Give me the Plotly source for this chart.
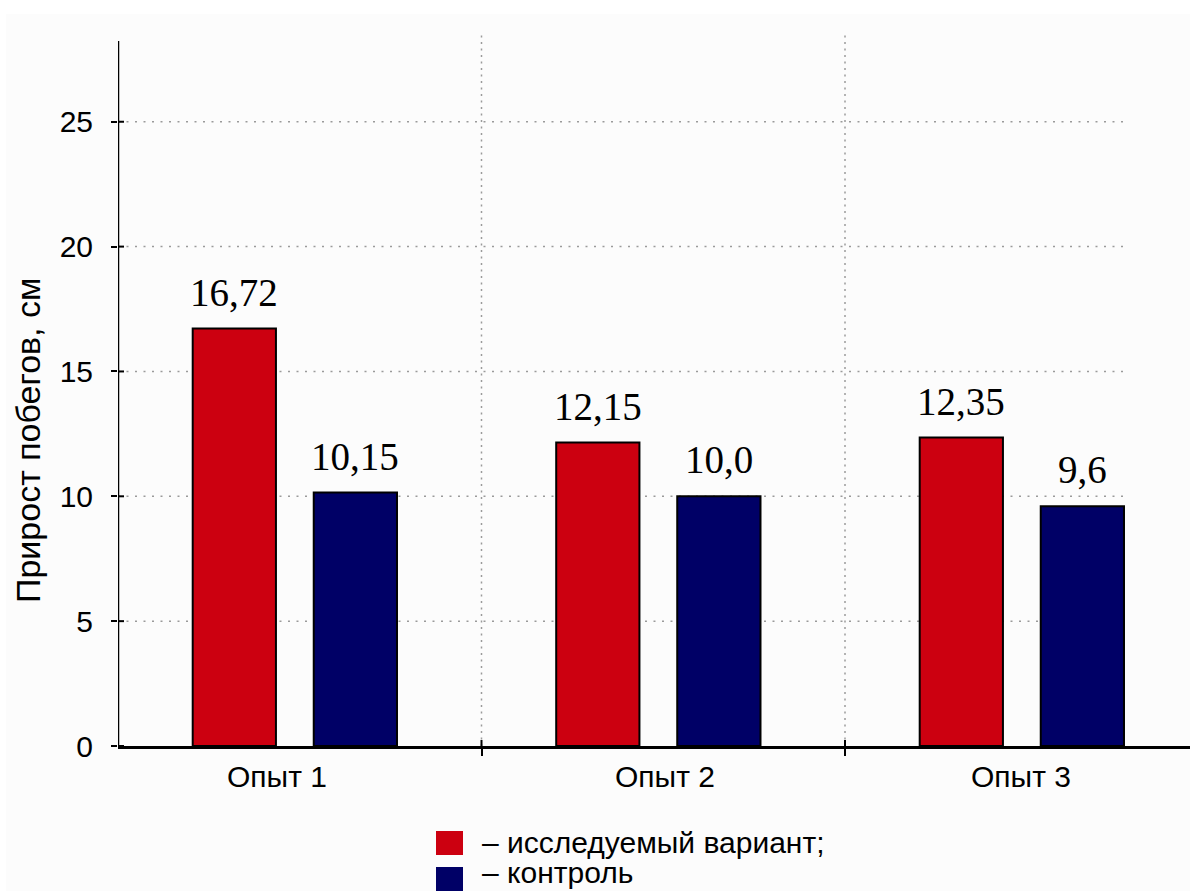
import plotly.graph_objects as go

# Data
experiments = ["Опыт 1", "Опыт 2", "Опыт 3"]
studied = [16.72, 12.15, 12.35]
control = [10.15, 10.0, 9.6]
studied_labels = ["16,72", "12,15", "12,35"]
control_labels = ["10,15", "10,0", "9,6"]
y_ticks = [0, 5, 10, 15, 20, 25]

series_names = ["– исследуемый вариант;", "– контроль"]
RED = "#cc0010"
NAVY = "#000066"
SANS = "Liberation Sans, Arial, sans-serif"
SERIF = "Liberation Serif, Times New Roman, serif"

W, H = 1190, 891
M_L, M_R, M_T, M_B = 118, 0, 32, 145
PX_PER_CAT = 363.5
PX_PER_UNIT = 24.97

x_pos = list(range(len(experiments)))
x_min = -0.5
x_max = x_min + (W - M_L - M_R) / PX_PER_CAT
y_max = (H - M_B - M_T) / PX_PER_UNIT
axis_top = (H - M_B - 41) / PX_PER_UNIT
grid_right = x_min + (1129 - M_L) / PX_PER_CAT

plot_w = W - M_L - M_R
plot_h = H - M_T - M_B


def px_x(px):
    return (px - M_L) / plot_w


def px_y(py):
    return (H - M_B - py) / plot_h


bar_w = 0.229
fig = go.Figure()
fig.add_trace(go.Bar(
    x=x_pos, y=studied, name=series_names[0],
    width=bar_w, offset=-0.18 - bar_w / 2,
    marker=dict(color=RED, line=dict(color="black", width=2)),
    showlegend=False, hoverinfo="y",
))
fig.add_trace(go.Bar(
    x=x_pos, y=control, name=series_names[1],
    width=bar_w, offset=0.153 - bar_w / 2,
    marker=dict(color=NAVY, line=dict(color="black", width=2)),
    showlegend=False, hoverinfo="y",
))

shapes = []
# dotted horizontal grid
for v in y_ticks[1:]:
    shapes.append(dict(type="line", xref="x", yref="y", x0=x_min, x1=grid_right,
                       y0=v, y1=v, layer="below",
                       line=dict(color="#9a9a9a", width=1.5, dash="2px,6.5px")))
# dotted vertical separators between experiments
for b in [0.5, 1.5]:
    shapes.append(dict(type="line", xref="x", yref="y", x0=b, x1=b,
                       y0=0, y1=y_max, layer="below",
                       line=dict(color="#9a9a9a", width=1.5, dash="2px,4.5px")))
# y axis line
shapes.append(dict(type="line", xref="x", yref="y", x0=x_min, x1=x_min,
                   y0=0, y1=axis_top, line=dict(color="black", width=2.5)))
# inner halves of the y tick marks
for v in y_ticks:
    shapes.append(dict(type="line", xref="x", yref="y", x0=x_min,
                       x1=x_min + 6 / PX_PER_CAT, y0=v, y1=v,
                       line=dict(color="black", width=2)))
# inner halves of the x tick marks
for b in [0.5, 1.5]:
    shapes.append(dict(type="line", xref="x", yref="paper", x0=b, x1=b,
                       y0=0, y1=px_y(H - M_B - 6),
                       line=dict(color="black", width=2)))
# white frame strips at top and left
shapes.append(dict(type="rect", xref="paper", yref="paper",
                   x0=px_x(0), x1=px_x(W), y0=px_y(14), y1=px_y(0),
                   fillcolor="white", line=dict(width=0), layer="below"))
shapes.append(dict(type="rect", xref="paper", yref="paper",
                   x0=px_x(0), x1=px_x(6), y0=px_y(H), y1=px_y(0),
                   fillcolor="white", line=dict(width=0), layer="below"))

# legend squares
legend_colors = [RED, NAVY]
square_rows = [843, 879]
text_rows = [842, 872]
for c, ry in zip(legend_colors, square_rows):
    shapes.append(dict(type="rect", xref="paper", yref="paper",
                       x0=px_x(436), x1=px_x(463), y0=px_y(ry + 12), y1=px_y(ry - 12),
                       fillcolor=c, line=dict(width=0)))

annotations = []
# value labels
label_font = dict(family=SERIF, size=39, color="black")
for i in x_pos:
    annotations.append(dict(x=i - 0.18, y=studied[i], xref="x", yref="y",
                            text=studied_labels[i], showarrow=False,
                            yanchor="bottom", yshift=13, font=label_font))
    annotations.append(dict(x=i + 0.153, y=control[i], xref="x", yref="y",
                            text=control_labels[i], showarrow=False,
                            yanchor="bottom", yshift=13, font=label_font))
# category labels
cat_label_px = [276.5, 664.5, 1020.5]
for name, cx in zip(experiments, cat_label_px):
    annotations.append(dict(x=px_x(cx), y=px_y(776), xref="paper", yref="paper",
                            text=name, showarrow=False, xanchor="center",
                            yanchor="middle",
                            font=dict(family=SANS, size=30, color="black")))
# y axis title
annotations.append(dict(x=px_x(28), y=px_y(441), xref="paper", yref="paper",
                        text="Прирост побегов, см", textangle=-90, showarrow=False,
                        xanchor="center", yanchor="middle",
                        font=dict(family=SANS, size=34, color="black")))
# legend text
for name, ry in zip(series_names, text_rows):
    annotations.append(dict(x=px_x(480), y=px_y(ry), xref="paper", yref="paper",
                            text=name, showarrow=False, xanchor="left",
                            yanchor="middle",
                            font=dict(family=SANS, size=30, color="black")))

fig.update_layout(
    width=W, height=H,
    margin=dict(l=M_L, r=M_R, t=M_T, b=M_B, pad=0),
    paper_bgcolor="#fcfcfc", plot_bgcolor="#fcfcfc",
    barmode="overlay",
    shapes=shapes, annotations=annotations,
    xaxis=dict(range=[x_min, x_max], showgrid=False, zeroline=False,
               showline=True, linecolor="black", linewidth=2.5,
               tickmode="array", tickvals=[0.5, 1.5], ticktext=["", ""],
               ticks="outside", ticklen=7, tickwidth=2, tickcolor="black"),
    yaxis=dict(range=[0, y_max], showgrid=False, zeroline=False, showline=False,
               tickmode="array", tickvals=y_ticks,
               ticks="outside", ticklen=6, tickwidth=2, tickcolor="black",
               ticklabelstandoff=12,
               tickfont=dict(family=SANS, size=30, color="black")),
)

fig.write_html("out.html")
